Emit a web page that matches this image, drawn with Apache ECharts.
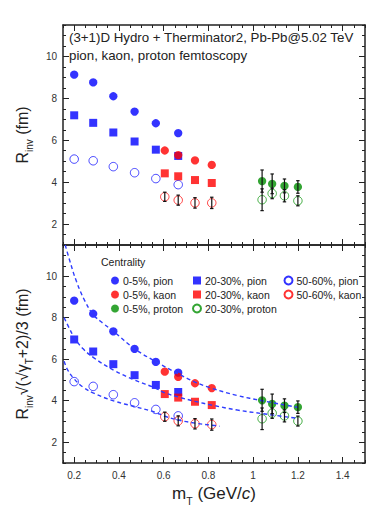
<!DOCTYPE html>
<html>
<head>
<meta charset="utf-8">
<script src="https://cdn.jsdelivr.net/npm/echarts@6/dist/echarts.min.js"></script>
<style>html,body{margin:0;padding:0;background:#fff}#c{width:374px;height:517px}</style>
</head>
<body>
<div id="c"></div>
<script>
// ---- data ----
const mT_pion = [0.2, 0.285, 0.375, 0.47, 0.565, 0.665];
const mT_kaon = [0.605, 0.665, 0.74, 0.815];
const mT_proton = [1.04, 1.085, 1.14, 1.2];

// top panel: R_inv (fm)
const rinv_pion_0_5 = [9.13, 8.76, 8.10, 7.37, 6.81, 6.34];
const rinv_pion_20_30 = [7.19, 6.83, 6.37, 5.94, 5.55, 5.25];
const rinv_pion_50_60 = [5.10, 5.02, 4.74, 4.45, 4.17, 3.88];
const rinv_kaon_0_5 = [5.51, 5.29, 5.04, 4.82];
const rinv_kaon_20_30 = [4.42, 4.28, 4.10, 3.96];
const rinv_kaon_50_60 = [3.30, 3.14, 3.01, 3.01];
const rinv_proton_0_5 = [4.05, 3.92, 3.82, 3.77];
const rinv_proton_20_30 = [3.16, 3.46, 3.35, 3.11];

// bottom panel: scaled R_inv (fm)
const scaled_pion_0_5 = [8.82, 8.19, 7.34, 6.50, 5.87, 5.35];
const scaled_pion_20_30 = [6.95, 6.37, 5.76, 5.23, 4.76, 4.42];
const scaled_pion_50_60 = [4.92, 4.69, 4.29, 3.90, 3.58, 3.27];
const scaled_kaon_0_5 = [5.40, 5.15, 4.84, 4.61];
const scaled_kaon_20_30 = [4.32, 4.15, 3.95, 3.79];
const scaled_kaon_50_60 = [3.23, 3.03, 2.89, 2.85];
const scaled_proton_0_5 = [4.02, 3.85, 3.76, 3.69];
const scaled_proton_20_30 = [3.13, 3.40, 3.27, 3.02];

// error bars (half widths)
const err_kaon_50_60 = [0.22, 0.24, 0.25, 0.27];
const err_proton_0_5 = [0.53, 0.47, 0.33, 0.30];
const err_proton_20_30 = [0.52, 0.25, 0.29, 0.24];

// dashed fit curves
const fit_mT_0_5 = [0.16, 0.18, 0.21, 0.247, 0.285, 0.33, 0.375, 0.47, 0.57, 0.665, 0.74, 0.815, 0.93, 1.04, 1.2];
const fit_R_0_5 = [11.5, 10.75, 9.75, 8.82, 8.15, 7.72, 7.35, 6.5, 5.85, 5.3, 4.9, 4.6, 4.25, 4.0, 3.68];
const fit_mT_20_30 = [0.155, 0.18, 0.2, 0.24, 0.29, 0.38, 0.47, 0.565, 0.605, 0.665, 0.74, 0.815, 0.93, 1.04, 1.2];
const fit_R_20_30 = [8.0, 7.45, 7.05, 6.5, 6.05, 5.45, 5.0, 4.6, 4.38, 4.18, 3.97, 3.79, 3.55, 3.38, 3.15];
const fit_mT_50_60 = [0.155, 0.17, 0.2, 0.24, 0.29, 0.38, 0.47, 0.56, 0.605, 0.665, 0.74, 0.815, 0.85];
const fit_R_50_60 = [5.9, 5.5, 5.05, 4.65, 4.35, 3.98, 3.72, 3.45, 3.25, 3.07, 2.92, 2.82, 2.77];

// axes
const xTicks = [0.2, 0.4, 0.6, 0.8, 1.0, 1.2, 1.4];
const xTickLabels = ['0.2', '0.4', '0.6', '0.8', '1', '1.2', '1.4'];
const yTicks = [2, 4, 6, 8, 10];
const yTickLabels = ['2', '4', '6', '8', '10'];

const labels = {
  pion05: '0-5%, pion', kaon05: '0-5%, kaon', proton05: '0-5%, proton',
  pion2030: '20-30%, pion', kaon2030: '20-30%, kaon', proton2030: '20-30%, proton',
  pion5060: '50-60%, pion', kaon5060: '50-60%, kaon'
};

// ---- styling ----
const FONT = '"Liberation Sans", Arial, Helvetica, sans-serif';
const BLUE = '#0000ff', RED = '#ff0000', GREEN = '#008f00';
const AX = '#222';
const XMIN = 0.15, XMAX = 1.5, YMIN = 1, YMAX = 11.5;

const chart = echarts.init(document.getElementById('c'), null, {renderer: 'svg'});

function xAxes(g, withLabels) {
  const base = {type: 'value', gridIndex: g, min: XMIN, max: XMAX, splitLine: {show: false}};
  const minor = (pos) => Object.assign({}, base, {
    position: pos, interval: 0.05,
    axisLine: {show: true, onZero: false, lineStyle: {color: AX, width: 1.5}},
    axisTick: {show: true, inside: true, length: 3, lineStyle: {color: AX, width: 1}},
    axisLabel: {show: false}
  });
  const major = (pos, lab) => Object.assign({}, base, {
    position: pos,
    axisLine: {show: false, onZero: false},
    axisTick: {show: true, inside: true, length: 6, customValues: xTicks, lineStyle: {color: AX, width: 1}},
    axisLabel: lab ? {show: true, customValues: xTicks, margin: 7, color: '#333', fontSize: 10, fontFamily: FONT,
      formatter: (v) => xTickLabels[xTicks.findIndex(t => Math.abs(t - v) < 1e-6)] } : {show: false}
  });
  const b = major('bottom', withLabels);
  if (withLabels) {
    b.name = '{m|m}{s|T}{m| (GeV/}{i|c}{m|)}';
    b.nameLocation = 'middle';
    b.nameGap = 22;
    b.nameTextStyle = {
      color: '#222', fontFamily: FONT, verticalAlign: 'top',
      rich: {
        m: {fontSize: 17, fontFamily: FONT, color: '#222', padding: [0, 0, 4, 0]},
        i: {fontSize: 17, fontFamily: FONT, color: '#222', fontStyle: 'italic', padding: [0, 0, 4, 0]},
        s: {fontSize: 10.5, fontFamily: FONT, color: '#222', verticalAlign: 'bottom'}
      }
    };
  }
  return [minor('bottom'), b, minor('top'), major('top', false)];
}

function yAxes(g, name) {
  const base = {type: 'value', gridIndex: g, min: YMIN, max: YMAX, splitLine: {show: false}};
  const minor = (pos) => Object.assign({}, base, {
    position: pos, interval: 0.5,
    axisLine: {show: true, onZero: false, lineStyle: {color: AX, width: 1.5}},
    axisTick: {show: true, inside: true, length: 3, lineStyle: {color: AX, width: 1}},
    axisLabel: {show: false}
  });
  const major = (pos, lab) => Object.assign({}, base, {
    position: pos,
    axisLine: {show: false, onZero: false},
    axisTick: {show: true, inside: true, length: 6, customValues: yTicks, lineStyle: {color: AX, width: 1}},
    axisLabel: lab ? {show: true, customValues: yTicks, margin: 6, color: '#333', fontSize: 10, fontFamily: FONT,
      formatter: (v) => yTickLabels[yTicks.indexOf(Math.round(v))]} : {show: false}
  });
  const l = major('left', true);
  l.name = name;
  l.nameLocation = 'middle';
  l.nameRotate = 90;
  l.nameGap = 26;
  l.nameTextStyle = {
    color: '#222', fontFamily: FONT,
    rich: {
      m: {fontSize: 16, fontFamily: FONT, color: '#222', padding: [0, 0, 4, 0]},
      s: {fontSize: 10, fontFamily: FONT, color: '#222', verticalAlign: 'bottom'}
    }
  };
  return [minor('left'), l, minor('right'), major('right', false)];
}

const pairs = (xs, ys) => xs.map((x, i) => [x, ys[i]]);
const errs = (xs, ys, es) => xs.map((x, i) => [x, ys[i] - es[i], ys[i] + es[i]]);

function scatter(name, g, xs, ys, symbol, color, open) {
  return {
    type: 'scatter', name, xAxisIndex: g * 4, yAxisIndex: g * 4,
    data: pairs(xs, ys), symbol, symbolSize: open ? 8.5 : (symbol === 'rect' ? 8 : 8.3), z: 3, silent: true,
    itemStyle: open ? {color: 'rgba(255,255,255,0)', borderColor: color, borderWidth: 0.9} : {color: color}
  };
}

function errorBars(g, xs, ys, es) {
  return {
    type: 'custom', xAxisIndex: g * 4, yAxisIndex: g * 4, z: 6, silent: true,
    data: errs(xs, ys, es), encode: {x: 0, y: [1, 2]},
    renderItem: function (params, api) {
      const lo = api.coord([api.value(0), api.value(1)]);
      const hi = api.coord([api.value(0), api.value(2)]);
      const st = {stroke: '#111', lineWidth: 1.2};
      return {type: 'group', children: [
        {type: 'line', shape: {x1: lo[0], y1: lo[1], x2: hi[0], y2: hi[1]}, style: st},
        {type: 'line', shape: {x1: lo[0] - 1.7, y1: lo[1], x2: lo[0] + 1.7, y2: lo[1]}, style: st},
        {type: 'line', shape: {x1: hi[0] - 1.7, y1: hi[1], x2: hi[0] + 1.7, y2: hi[1]}, style: st}
      ]};
    }
  };
}

function fit(xs, ys) {
  return {
    type: 'line', xAxisIndex: 4, yAxisIndex: 4, data: pairs(xs, ys),
    smooth: 0.4, showSymbol: false, symbol: 'none', silent: true, z: 5,
    lineStyle: {color: '#2f3dff', width: 1.4, type: [4, 3]}
  };
}

const series = [];
const panels = [
  [rinv_pion_0_5, rinv_pion_20_30, rinv_pion_50_60, rinv_kaon_0_5, rinv_kaon_20_30, rinv_kaon_50_60, rinv_proton_0_5, rinv_proton_20_30],
  [scaled_pion_0_5, scaled_pion_20_30, scaled_pion_50_60, scaled_kaon_0_5, scaled_kaon_20_30, scaled_kaon_50_60, scaled_proton_0_5, scaled_proton_20_30]
];
panels.forEach((d, g) => {
  series.push(scatter(labels.pion2030, g, mT_pion, d[1], 'rect', BLUE, false));
  series.push(scatter(labels.pion05, g, mT_pion, d[0], 'circle', BLUE, false));
  series.push(scatter(labels.pion5060, g, mT_pion, d[2], 'circle', BLUE, true));
  series.push(scatter(labels.kaon2030, g, mT_kaon, d[4], 'rect', RED, false));
  series.push(scatter(labels.kaon05, g, mT_kaon, d[3], 'circle', RED, false));
  series.push(scatter(labels.kaon5060, g, mT_kaon, d[5], 'circle', RED, true));
  series.push(scatter(labels.proton05, g, mT_proton, d[6], 'circle', GREEN, false));
  series.push(scatter(labels.proton2030, g, mT_proton, d[7], 'circle', GREEN, true));
  series.push(errorBars(g, mT_kaon, d[5], err_kaon_50_60));
  series.push(errorBars(g, mT_proton, d[6], err_proton_0_5));
  series.push(errorBars(g, mT_proton, d[7], err_proton_20_30));
});
series.push(fit(fit_mT_0_5, fit_R_0_5));
series.push(fit(fit_mT_20_30, fit_R_20_30));
series.push(fit(fit_mT_50_60, fit_R_50_60));

const legendBase = {
  orient: 'vertical', itemWidth: 8, itemHeight: 8, itemGap: 3, selectedMode: false,
  textStyle: {fontSize: 10.5, color: '#222', fontFamily: FONT, lineHeight: 11, padding: [0, 0, 0, -1]}
};

const option = {
  animation: false,
  backgroundColor: '#fff',
  grid: [
    {left: 63, top: 25, width: 302, height: 220},
    {left: 63, top: 245, width: 302, height: 218}
  ],
  xAxis: [...xAxes(0, false), ...xAxes(1, true)],
  yAxis: [...yAxes(0, '{m|R}{s|inv}{m| (fm)}'), ...yAxes(1, '{m|R}{s|inv}{m|√(√γ}{s|T}{m|+2)/3 (fm)}')],
  legend: [
    Object.assign({}, legendBase, {left: 106, top: 270, data: [labels.pion05, labels.kaon05, labels.proton05]}),
    Object.assign({}, legendBase, {left: 187, top: 270, data: [labels.pion2030, labels.kaon2030, labels.proton2030]}),
    Object.assign({}, legendBase, {left: 278.5, top: 270, data: [labels.pion5060, labels.kaon5060]})
  ],
  graphic: [
    {type: 'text', left: 69, top: 30.5, style: {text: '(3+1)D Hydro + Therminator2, Pb-Pb@5.02 TeV', fontSize: 13.3, fontFamily: FONT, fill: '#222'}},
    {type: 'text', left: 69, top: 49, style: {text: 'pion, kaon, proton femtoscopy', fontSize: 13.3, fontFamily: FONT, fill: '#222'}},
    {type: 'text', left: 101, top: 256, style: {text: 'Centrality', fontSize: 10.5, fontFamily: FONT, fill: '#222'}}
  ],
  series: series
};
chart.setOption(option);
</script>
</body>
</html>
